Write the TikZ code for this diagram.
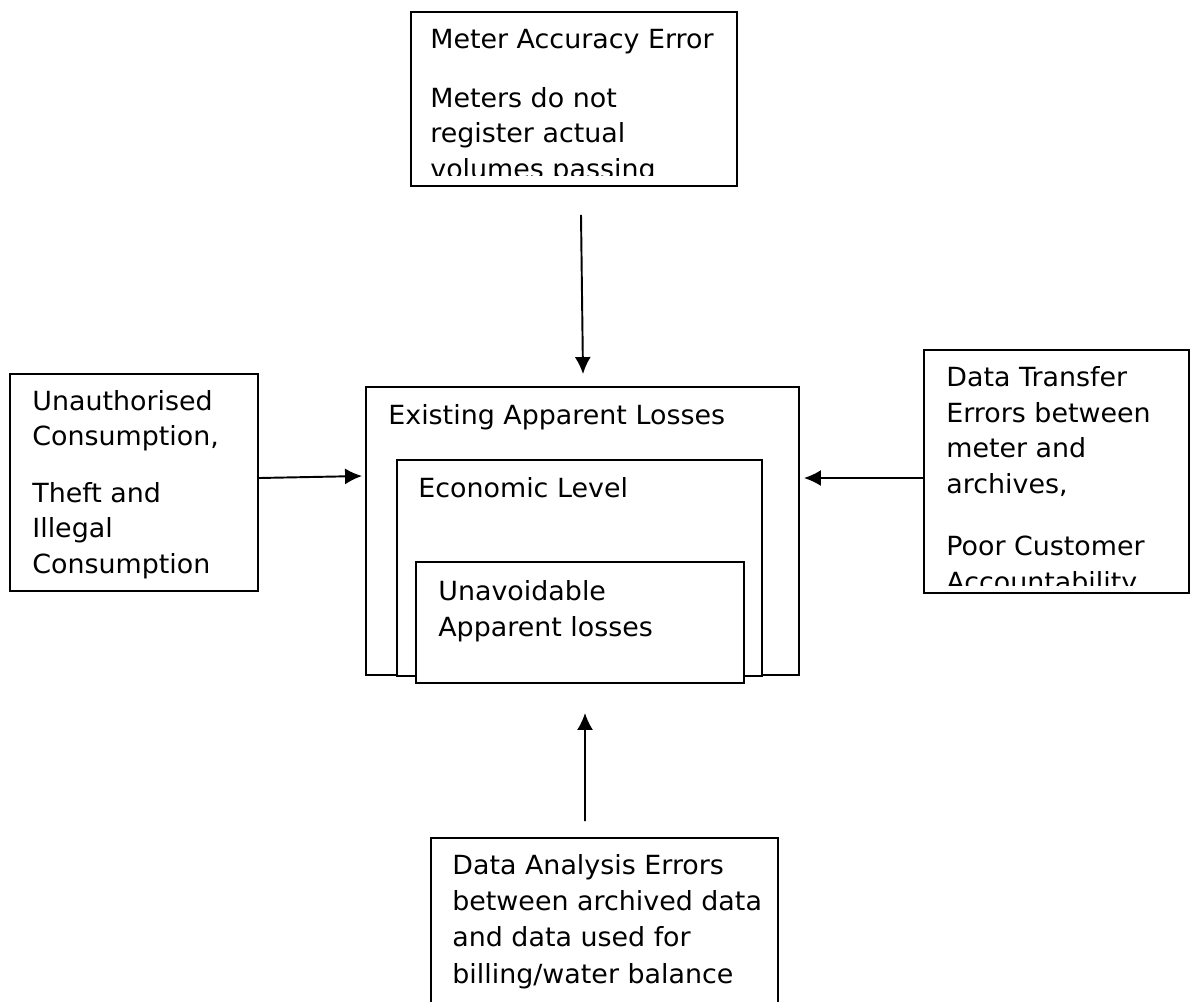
\documentclass[tikz,border=0pt]{standalone}
\usepackage{fontspec}
\setmainfont[FakeStretch=1.02]{DejaVu Sans}
\usetikzlibrary{
  arrows.meta,
  positioning
}
\definecolor{linecolor}{RGB}{0, 0, 0}
\tikzset{
lossbox/.style={
  draw=linecolor,
  line width=1.1pt,
  fill=white,
  inner sep=0pt
},
boxtext/.style={
  anchor=base west,
  align=left,
  inner sep=0pt,
  font=\fontsize{15}{20.2}\selectfont
},
arrow/.style={
  -{Latex[length=3.4mm,width=3.2mm]},
  line width=1.1pt,
  draw=linecolor
}
}

\begin{document}
\begin{tikzpicture}[x=0.02cm, y=-0.02cm]
    \useasboundingbox (0,0) rectangle (1192,1001);
    \clip (0,0) rectangle (1192,1001);

    % Causes round the centre
    \node[lossbox, minimum width=6.52cm, minimum height=3.48cm] (meter) at (574,99) {};
    \node[lossbox, minimum width=4.96cm, minimum height=4.34cm] (theft) at (134,482.5) {};
    \node[lossbox, minimum width=5.30cm, minimum height=4.86cm] (transfer) at (1056.5,471.5) {};
    \node[lossbox, minimum width=6.94cm, minimum height=4.20cm] (analysis) at (604.5,943) {};

    % Nested loss levels
    \node[lossbox, minimum width=8.66cm, minimum height=5.76cm] (existing) at (582.5,531) {};
    \node[lossbox, minimum width=7.30cm, minimum height=4.32cm] (economic) at (579.5,568) {};
    \node[lossbox, minimum width=6.56cm, minimum height=2.42cm] (unavoid) at (580,622.5) {};

    % Texts (placed by their last line, cut off inside their boxes)
    \begin{scope}
      \clip ([yshift=0.22cm]meter.south west) rectangle (meter.north east);
      \node[boxtext] (metertext) at (430,178) {Meter Accuracy Error\\[0.46cm]Meters do not\\register actual\\volumes passing};
    \end{scope}
    \node[boxtext] (thefttext) at (32,573) {Unauthorised\\Consumption,\\[0.42cm]Theft and\\Illegal\\Consumption};
    \begin{scope}
      \clip ([shift={(0.02cm,0.16cm)}]transfer.south west) rectangle (transfer.north east);
      \node[boxtext] (transfertext) at (946,591) {Data Transfer\\Errors between\\meter and\\archives,\\[0.54cm]Poor Customer\\Accountability};
    \end{scope}
    \node[boxtext, font=\fontsize{15}{20.6}\selectfont] (analysistext) at (452,983) {Data Analysis Errors\\between archived data\\and data used for\\billing/water balance};
    \node[boxtext] (existingtext) at (388,424) {Existing Apparent Losses};
    \node[boxtext] (economictext) at (418,497) {Economic Level};
    \node[boxtext] (unavoidtext) at (438,636) {Unavoidable\\Apparent losses};

    % Arrows into the centre
    \draw[arrow] ([shift={(0.14cm,-0.56cm)}]meter.south) -- ([shift={(0.01cm,0.24cm)}]existing.north);
    \draw[arrow] ([yshift=0.09cm]theft.east) -- ([shift={(-0.06cm,1.10cm)}]existing.west);
    \draw[arrow] ([yshift=-0.13cm]transfer.west) -- ([shift={(0.08cm,1.06cm)}]existing.east);
    \draw[arrow] ([shift={(-0.39cm,0.32cm)}]analysis.north) -- ([shift={(0.10cm,-0.58cm)}]unavoid.south);

  \end{tikzpicture}
\end{document}
